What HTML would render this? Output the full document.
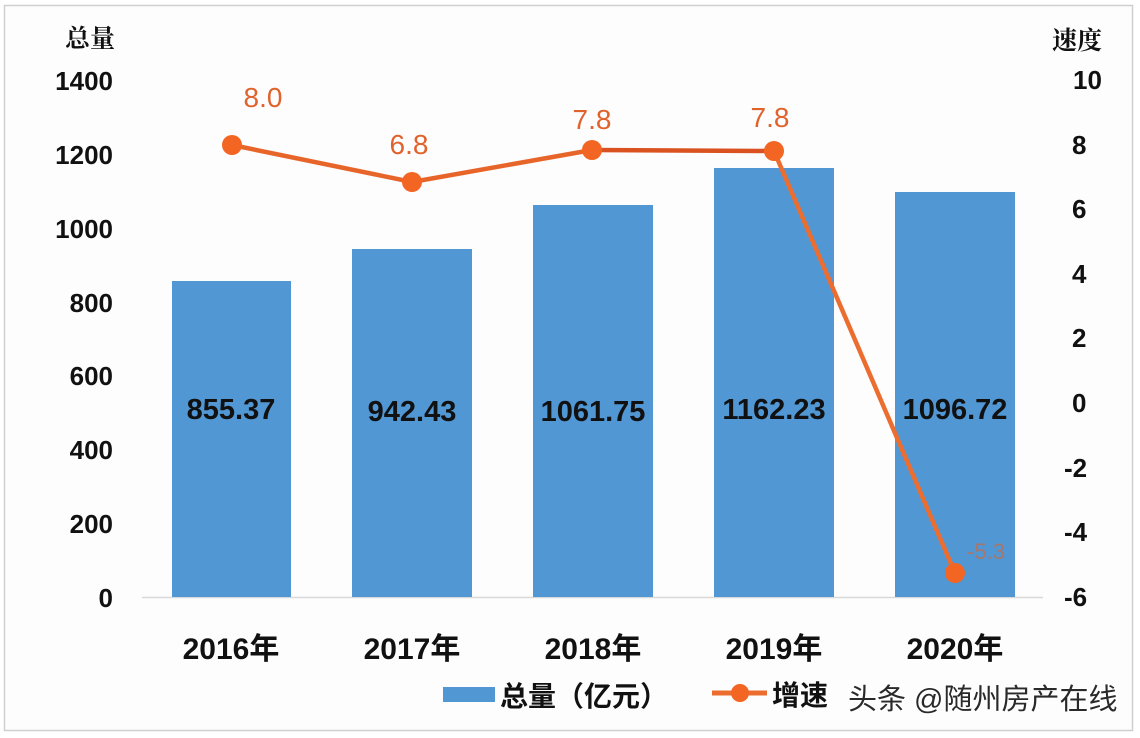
<!DOCTYPE html>
<html>
<head>
<meta charset="utf-8">
<style>
  html,body{margin:0;padding:0;background:#ffffff;}
  svg{display:block;}
  .ax{font-family:"Liberation Sans","Noto Sans CJK SC",sans-serif;font-weight:bold;fill:#111;}
  .cj{font-family:"Noto Serif CJK SC","Noto Sans CJK SC",serif;font-weight:bold;fill:#111;}
  .or{font-family:"Liberation Sans",sans-serif;fill:#E0622C;}
</style>
</head>
<body>
<svg width="1140" height="738" viewBox="0 0 1140 738" xmlns="http://www.w3.org/2000/svg">
  <rect x="0" y="0" width="1140" height="738" fill="#ffffff"/>
  <rect x="4.5" y="5.5" width="1128" height="725" fill="#FDFDFE" stroke="#CFCFCF" stroke-width="1.5"/>

  <!-- axis titles -->
  <text class="cj" x="65" y="47" font-size="25">总量</text>
  <text class="cj" x="1052" y="49" font-size="25">速度</text>

  <!-- left axis labels -->
  <g class="ax" font-size="26" text-anchor="end">
    <text x="113" y="90">1400</text>
    <text x="113" y="164">1200</text>
    <text x="113" y="238">1000</text>
    <text x="113" y="312">800</text>
    <text x="113" y="385">600</text>
    <text x="113" y="459">400</text>
    <text x="113" y="533">200</text>
    <text x="113" y="607">0</text>
  </g>

  <!-- right axis labels -->
  <g class="ax" font-size="26">
    <text x="1073" y="89">10</text>
    <text x="1072" y="154">8</text>
    <text x="1072" y="218">6</text>
    <text x="1072" y="283">4</text>
    <text x="1072" y="347">2</text>
    <text x="1072" y="412">0</text>
    <text x="1064" y="477">-2</text>
    <text x="1064" y="541">-4</text>
    <text x="1064" y="606">-6</text>
  </g>

  <!-- baseline -->
  <line x1="142" y1="597.5" x2="1043" y2="597.5" stroke="#D9D9D9" stroke-width="1.5"/>

  <!-- bars -->
  <g fill="#5097D4">
    <rect x="172" y="281" width="119" height="316"/>
    <rect x="352" y="249" width="120" height="348"/>
    <rect x="533" y="205" width="120" height="392"/>
    <rect x="714" y="168" width="120" height="429"/>
    <rect x="895" y="192" width="120" height="405"/>
  </g>

  <!-- bar value labels -->
  <g class="ax" font-size="29" text-anchor="middle" fill="#111">
    <text x="231" y="419">855.37</text>
    <text x="412" y="421">942.43</text>
    <text x="593" y="421">1061.75</text>
    <text x="774" y="419">1162.23</text>
    <text x="955" y="419">1096.72</text>
  </g>

  <!-- line series -->
  <polyline points="232,145 412,182 592,150" fill="none" stroke="#E8652A" stroke-width="4.5" stroke-linejoin="round"/>
  <polyline points="592,150 774,151" fill="none" stroke="#D9521F" stroke-width="4.5"/>
  <polyline points="774,151 955,573" fill="none" stroke="#EB6E30" stroke-width="4.5"/>
  <g fill="#F26522">
    <circle cx="232" cy="145" r="10"/>
    <circle cx="412" cy="182" r="10"/>
    <circle cx="592" cy="150" r="10"/>
    <circle cx="774" cy="151" r="10"/>
    <circle cx="955" cy="573" r="10"/>
  </g>

  <!-- line value labels -->
  <g class="or" font-size="28" text-anchor="middle">
    <text x="263" y="107">8.0</text>
    <text x="409" y="154">6.8</text>
    <text x="592" y="129">7.8</text>
    <text x="770" y="127">7.8</text>
  </g>
  <text class="or" x="986" y="559" font-size="22" text-anchor="middle" fill="#E8906A" opacity="0.6">-5.3</text>

  <!-- year labels -->
  <g class="ax" font-size="30" text-anchor="middle">
    <text x="231" y="659">2016年</text>
    <text x="412" y="659">2017年</text>
    <text x="593" y="659">2018年</text>
    <text x="774" y="659">2019年</text>
    <text x="955" y="659">2020年</text>
  </g>

  <!-- legend -->
  <rect x="443" y="687" width="52" height="15" fill="#5097D4"/>
  <text x="500" y="706" font-size="28" font-weight="bold" fill="#111" font-family="'Noto Sans CJK SC',sans-serif">总量（亿元）</text>
  <line x1="712" y1="693" x2="767" y2="693" stroke="#EB6E30" stroke-width="5"/>
  <circle cx="740" cy="693" r="9" fill="#F26522"/>
  <text x="772" y="705" font-size="28" font-weight="bold" fill="#111" font-family="'Noto Sans CJK SC',sans-serif">增速</text>

  <!-- watermark -->
  <text x="848" y="709" font-size="29" fill="#2a2a2a" stroke="#ffffff" stroke-width="2.5" paint-order="stroke" font-family="'Liberation Sans','Noto Sans CJK SC',sans-serif">头条 @随州房产在线</text>
</svg>
</body>
</html>
